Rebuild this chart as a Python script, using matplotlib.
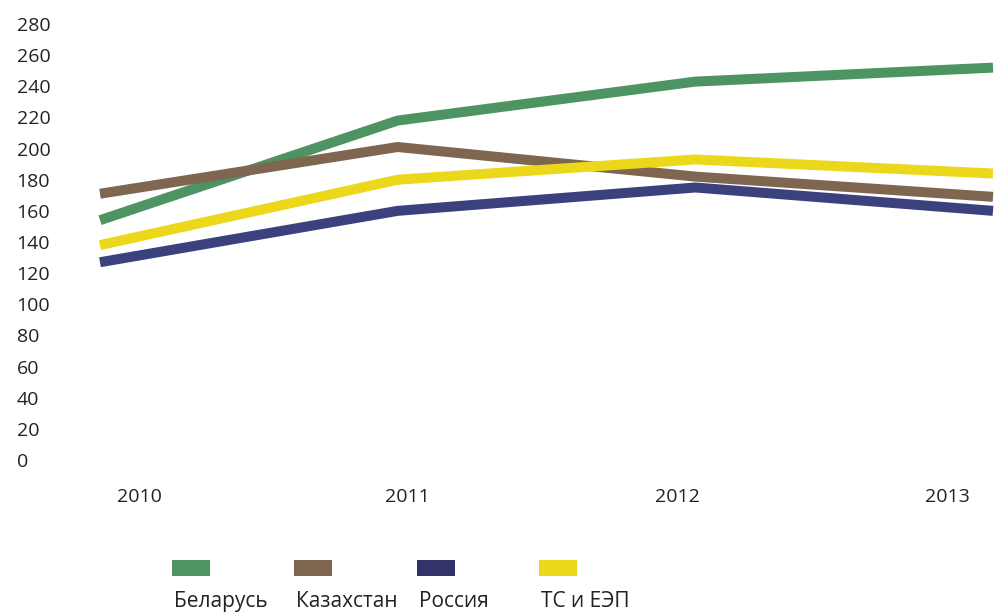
"""line chart: index by country, 2010-2013"""
import matplotlib
matplotlib.use('Agg')
from matplotlib import pyplot
from matplotlib.patches import Rectangle

YEARS = ['2010', '2011', '2012', '2013']
SERIES = ['Беларусь', 'Казахстан', 'Россия', 'ТС и ЕЭП']
BELARUS = [154, 218, 243, 252]
KAZAKHSTAN = [171, 201, 182, 169]
RUSSIA = [127, 160, 175, 160]
TS_EEP = [138, 180, 193, 184]
Y_TICKS = list(range(0, 281, 20))

LINE_COLORS = ['#4E9462', '#7F6650', '#3A417D', '#ECD81A']
LEGEND_COLORS = ['#4E9462', '#7F6650', '#33336A', '#ECD81A']
TEXT_COLOR = '#222222'
FONT = ['Open Sans', 'DejaVu Sans']
W, H = 995, 612

pyplot.rcParams['font.family'] = FONT
fig = pyplot.figure(figsize=(W / 100, H / 100), dpi=100)
ax = fig.add_axes([100 / W, (H - 460) / H, 893 / W, 436 / H])

x = list(range(len(YEARS)))
for values, color in zip([BELARUS, KAZAKHSTAN, RUSSIA, TS_EEP], LINE_COLORS):
    ax.plot(x, values, color=color, linewidth=7.2, solid_capstyle='butt',
            solid_joinstyle='miter', clip_on=False)

ax.set_xlim(0, 3)
ax.set_ylim(0, 280)
for spine in ax.spines.values():
    spine.set_visible(False)

ax.set_yticks(Y_TICKS)
ax.set_yticklabels([str(v) for v in Y_TICKS])
ax.tick_params(axis='y', length=0, pad=60, labelsize=14, labelcolor=TEXT_COLOR)
for label in ax.get_yticklabels():
    label.set_ha('left')

# year labels sit a bit off the data points in the original
ax.set_xticks([0.131, 1.034, 1.939, 2.848])
ax.set_xticklabels(YEARS)
ax.tick_params(axis='x', length=0, pad=20, labelsize=14, labelcolor=TEXT_COLOR)

# legend: swatch above its label
for idx, (name, color) in enumerate(zip(SERIES, LEGEND_COLORS)):
    left = 172 + idx * 122.3
    fig.add_artist(Rectangle((left / W, (H - 576) / H), 38 / W, 16 / H,
                             transform=fig.transFigure, facecolor=color, edgecolor='none'))
    fig.text((left + 2) / W, (H - 607) / H, name, fontsize=15, color=TEXT_COLOR,
             ha='left', va='baseline')

fig.savefig('out.png', dpi=100)
